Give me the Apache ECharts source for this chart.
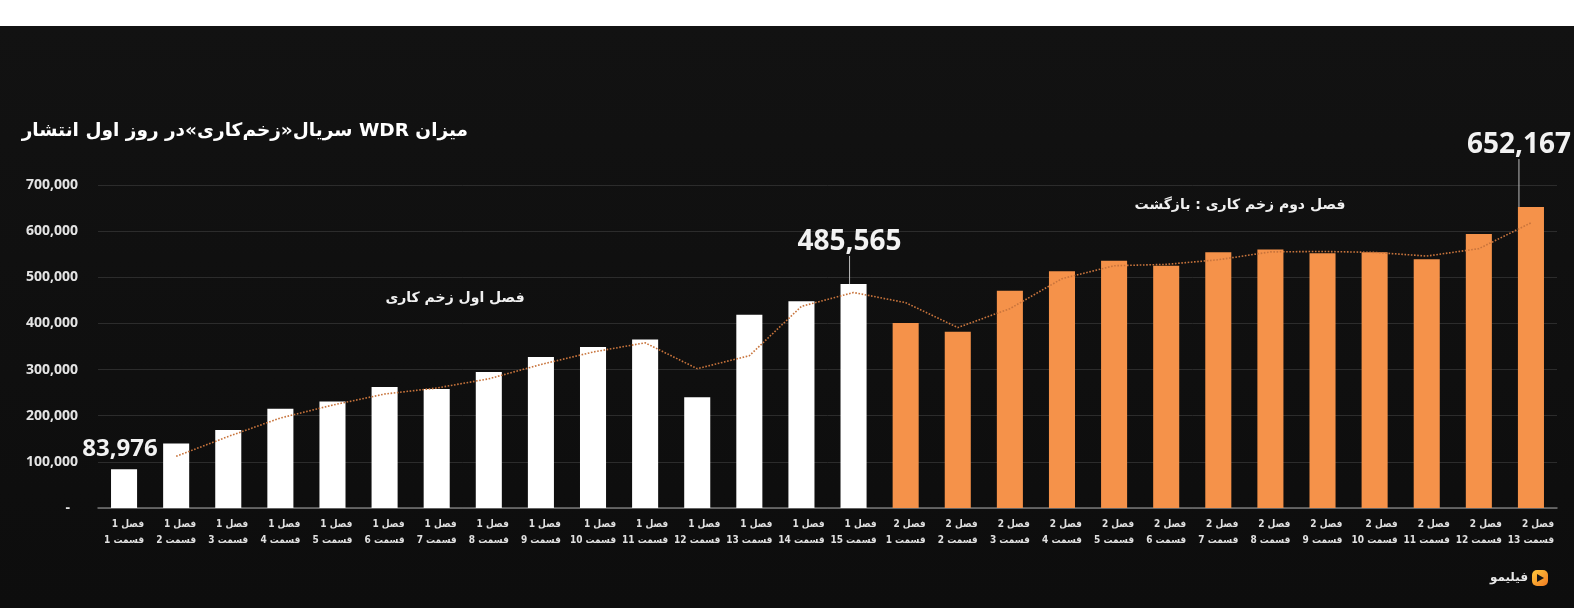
<!DOCTYPE html>
<html><head><meta charset="utf-8">
<script src="https://cdn.jsdelivr.net/npm/echarts@6/dist/echarts.min.js"></script>
<style>
html,body{margin:0;padding:0;}
body{width:1574px;height:608px;overflow:hidden;background:linear-gradient(to bottom,#ffffff 0,#ffffff 26px,#121212 26px,#0d0d0d 100%);}
#chart{width:1574px;height:608px;}
</style></head><body><div id="chart"></div>
<script>
// ---- data ----
const season1 = [83976, 140000, 169000, 215000, 231000, 262000, 258000, 295000, 327000, 349000, 365000, 240000, 419000, 448000, 485565];
const season2 = [401000, 382000, 471000, 513000, 536000, 525000, 554000, 560000, 552000, 554000, 539000, 594000, 652167];
const trend = [null, 112000, 155000, 195000, 223000, 247000, 260000, 280000, 311000, 338000, 358000, 302000, 330000, 437000, 467000,
               445000, 391000, 432000, 497000, 525000, 528000, 538000, 555000, 556000, 554000, 546000, 562000, 618000];
const seasonNames = ['فصل 1', 'فصل 2'];
const episodeWord = 'قسمت';
const yTicks = [0, 100000, 200000, 300000, 400000, 500000, 600000, 700000];
const titleText = 'میزان WDR سریال«زخم‌کاری»در روز اول انتشار';
const note1 = 'فصل اول زخم کاری';
const note2 = 'فصل دوم زخم کاری : بازگشت';
const brand = 'فیلیمو';

// ---- build ----
const RLE = '\u202B', PDF = '\u202C';
const rtl = s => RLE + s + PDF;
const categories = [];
season1.forEach((v, i) => categories.push(seasonNames[0] + '|' + episodeWord + ' ' + (i + 1)));
season2.forEach((v, i) => categories.push(seasonNames[1] + '|' + episodeWord + ' ' + (i + 1)));
const n1 = season1.length, n = categories.length;
const fmt = v => Number(v).toLocaleString('en-US');
const arFont = '"DejaVu Sans Condensed", "DejaVu Sans", sans-serif';

const bigLabel = (size) => ({
  show: true, position: 'top', distance: 4,
  formatter: p => fmt(p.value),
  color: '#f2f2f2', fontSize: size, fontWeight: 'bold', fontFamily: '"Open Sans", sans-serif'
});
const s1Data = categories.map((c, i) => {
  if (i >= n1) return '-';
  const item = { value: season1[i] };
  if (i === 0) { item.label = bigLabel(24); item.labelLine = { show: false }; }
  if (i === n1 - 1) item.label = bigLabel(28);
  return item;
});
const s2Data = categories.map((c, i) => {
  if (i < n1) return '-';
  const item = { value: season2[i - n1] };
  if (i === n - 1) item.label = bigLabel(28);
  return item;
});

const chart = echarts.init(document.getElementById('chart'), null, { renderer: 'canvas' });
chart.setOption({
  backgroundColor: 'transparent',
  animation: false,
  grid: { left: 98, right: 17, top: 185, bottom: 100, containLabel: false },
  xAxis: {
    type: 'category', data: categories,
    axisLine: { show: true, lineStyle: { color: '#777', width: 1.5 } },
    axisTick: { show: false },
    axisLabel: {
      interval: 0, margin: 8,
      formatter: v => { const [a, b] = v.split('|'); return '{a|' + rtl(a) + '}\n{a|' + rtl(b) + '}'; },
      rich: { a: { align: 'right', fontSize: 10, fontWeight: 'bold', color: '#e0e0e0', lineHeight: 16, fontFamily: arFont } }
    }
  },
  yAxis: {
    type: 'value', min: 0, max: yTicks[yTicks.length - 1], interval: yTicks[1] - yTicks[0],
    axisLine: { show: false }, axisTick: { show: false },
    splitLine: { show: true, lineStyle: { color: '#2c2c2c', width: 1 } },
    axisLabel: {
      margin: 20, color: '#e4e4e4', fontSize: 14, fontWeight: 'bold', fontFamily: '"Open Sans", sans-serif',
      formatter: v => v === 0 ? '{d|-}' : fmt(v),
      rich: { d: { padding: [0, 8, 0, 0], color: '#e4e4e4', fontSize: 14, fontWeight: 'bold' } }
    }
  },
  series: [
    {
      type: 'bar', name: 's1', stack: 'all', data: s1Data, barWidth: '50%',
      itemStyle: { color: '#ffffff' },
      labelLayout: p => p.dataIndex === n1 - 1 ? { dy: -24, dx: -4 } : (p.dataIndex === 0 ? { dx: -4, dy: -4 } : {}),
      labelLine: { show: true, lineStyle: { color: '#bbbbbb', width: 1 } }
    },
    {
      type: 'bar', name: 's2', stack: 'all', data: s2Data, barWidth: '50%',
      itemStyle: { color: '#f5924a' },
      labelLayout: p => p.dataIndex === n - 1 ? { dy: -44, dx: -12 } : {},
      labelLine: { show: true, lineStyle: { color: '#bbbbbb', width: 1 } }
    },
    {
      type: 'line', name: 'trend', data: trend, symbol: 'none', connectNulls: false, z: 5,
      lineStyle: { color: '#c8743c', width: 1.6, type: 'dotted' }
    }
  ],
  graphic: [
    { type: 'text', x: 468, y: 131, style: { text: rtl(titleText), align: 'right', verticalAlign: 'middle', fill: '#ffffff', font: 'bold 18.5px "DejaVu Sans", sans-serif' } },
    { type: 'text', x: 455, y: 298, style: { text: rtl(note1), align: 'center', verticalAlign: 'middle', fill: '#f0f0f0', font: 'bold 14px "DejaVu Sans", sans-serif' } },
    { type: 'text', x: 1240, y: 205, style: { text: rtl(note2), align: 'center', verticalAlign: 'middle', fill: '#f0f0f0', font: 'bold 14px "DejaVu Sans", sans-serif' } },
    { type: 'text', x: 1528, y: 578, style: { text: rtl(brand), align: 'right', verticalAlign: 'middle', fill: '#e8e8e8', font: 'bold 12px "DejaVu Sans", sans-serif' } },
    { type: 'rect', shape: { x: 1532, y: 570, width: 16, height: 16, r: 5 }, style: { fill: new echarts.graphic.LinearGradient(0, 0, 1, 1, [{ offset: 0, color: '#ffc93c' }, { offset: 1, color: '#f07a22' }]) } },
    { type: 'polygon', shape: { points: [[1537, 574], [1537, 582], [1544, 578]] }, style: { fill: '#151515' } }
  ]
});
</script></body></html>
